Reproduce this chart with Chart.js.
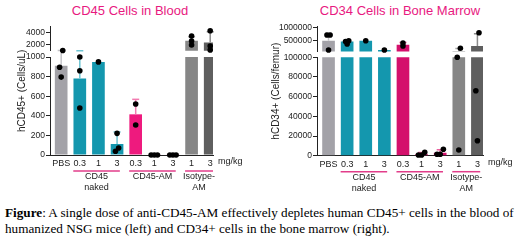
<!DOCTYPE html>
<html>
<head>
<meta charset="utf-8">
<script src="https://cdn.jsdelivr.net/npm/chart.js@4"></script>
<style>
  html, body { margin: 0; padding: 0; background: #fff; }
  body { width: 520px; height: 240px; position: relative; overflow: hidden; font-family: 'Liberation Sans', Arial, sans-serif; }
  .panel { position: absolute; top: 0; width: 260px; height: 200px; }
  .title { position: absolute; top: 3px; font-size: 13px; line-height: 16px; color: #e8197f; white-space: nowrap; transform: translateX(-50%); }
  .caption { position: absolute; left: 5px; top: 205px; font-family: 'Liberation Serif', 'Times New Roman', serif; font-size: 13.2px; line-height: 16px; color: #000; white-space: nowrap; }
</style>
</head>
<body>
<div class="title" style="left:130px">CD45 Cells in Blood</div>
<div class="title" style="left:400px">CD34 Cells in Bone Marrow</div>
<div class="panel" style="left:0"><canvas id="bloodChart"></canvas></div>
<div class="panel" style="left:260px"><canvas id="marrowChart"></canvas></div>
<div class="caption"><b>Figure</b>: A single dose of anti-CD45-AM effectively depletes human CD45+ cells in the blood of<br>humanized NSG mice (left) and CD34+ cells in the bone marrow (right).</div>

<script>
// x categories, shared by both panels
const doseLabels = ['PBS', '0.3', '1', '3', '0.3', '1', '3', '1', '3'];
const groupLabels = [
  { from: 1, to: 3, text: ['CD45', 'naked'] },
  { from: 4, to: 6, text: ['CD45-AM'] },
  { from: 7, to: 8, text: ['Isotype-', 'AM'] }
];

// CD45 cells in blood (cells/uL)
const bloodMeans = [910, 780, 950, 112, 415, 4, 3, 2650, 2380];
const bloodErrorTops = [1040, 1010, null, 235, 568, null, null, 3320, 4150];
const bloodPoints = [
  [1040, 895, 795], [1000, 860, 480], [950], [221, 38, 71], [520, 306],
  [0, 0, 0], [0, 0, 0], [3450, 2620, 1950], [4330, 1120, 1780]
];
const bloodLowTicks = [0, 200, 400, 600, 800, 1000];
const bloodHighTicks = [2000, 4000];

// CD34 cells in bone marrow (cells/femur)
const marrowMeans = [500000, 470000, 500000, 152000, 345000, 1600, 3000, 107000, 300000];
const marrowErrorTops = [775000, 520000, null, null, 430000, 3300, 6000, 210000, 760000];
const marrowPoints = [
  [712000, 712000, 152000], [500000, 380000, 470000], [500000], [152000], [300000, 410000],
  [3500, 700, 700], [6500, 1400, 1400], [215000, 100000, 5800], [797000, 66000, 15200]
];
const marrowLowTicks = [0, 20000, 40000, 60000, 80000, 100000];
const marrowHighTicks = [500000, 1000000];

const gray = '#a3a2a8', teal = '#1497ae', iso1 = '#868686', iso3 = '#5f5f5f';
const tickFont = { family: "'Liberation Sans', Arial, sans-serif", size: 8.5 };
const inkColor = '#222';

// text under the x axis, y title, mg/kg
const panelText = {
  id: 'panelText',
  afterDraw(chart, args, opts) {
    const { ctx, chartArea, scales: { x } } = chart;
    ctx.save();
    ctx.fillStyle = inkColor;
    ctx.font = "10px 'Liberation Sans', Arial, sans-serif";
    ctx.textAlign = 'center';
    ctx.textBaseline = 'middle';
    ctx.translate(opts.yTitleX, (chartArea.top + chartArea.bottom) / 2);
    ctx.rotate(-Math.PI / 2);
    ctx.fillText(opts.yTitle, 0, 0);
    ctx.restore();

    ctx.save();
    ctx.font = "9px 'Liberation Sans', Arial, sans-serif";
    ctx.fillStyle = inkColor;
    ctx.textBaseline = 'middle';
    ctx.textAlign = 'left';
    ctx.fillText('mg/kg', chartArea.right + 5, chartArea.bottom + 7);
    ctx.textAlign = 'center';
    const lineY = chartArea.bottom + 16;
    groupLabels.forEach(g => {
      const x1 = x.getPixelForValue(g.from - 0.35);
      const x2 = x.getPixelForValue(g.to + 0.15);
      ctx.strokeStyle = opts.groupColor;
      ctx.lineWidth = 1.5;
      ctx.beginPath();
      ctx.moveTo(x1, lineY);
      ctx.lineTo(x2, lineY);
      ctx.stroke();
      g.text.forEach((t, k) => ctx.fillText(t, (x1 + x2) / 2, lineY + 6 + k * 10.5));
    });
    ctx.restore();
  }
};

const makeYAxis = (min, max, weight, ticks, width) => ({
  type: 'linear', position: 'left', stack: 'v', stackWeight: weight, min, max, offset: false,
  border: { display: true, color: inkColor, width: 1 },
  grid: { display: true, drawOnChartArea: false, drawTicks: true, tickLength: 4, color: inkColor },
  ticks: { font: tickFont, color: inkColor, padding: 1, autoSkip: false, callback: v => String(v) },
  afterBuildTicks: axis => { axis.ticks = ticks.map(v => ({ value: v })); },
  afterFit: axis => { axis.width = width; }
});

// spread only the dots that would sit on top of each other (like a scatter dot plot)
const spreadGroup = (vals, i, lowMax, highMax) => {
  const near = (a, b) => {
    const range = (a > lowMax) === (b > lowMax) ? (a > lowMax ? highMax - lowMax : lowMax) : Infinity;
    return Math.abs(a - b) < range * 0.07;
  };
  const order = vals.map((v, k) => k).sort((a, b) => vals[a] - vals[b]);
  const clusters = [];
  order.forEach(k => {
    const last = clusters[clusters.length - 1];
    if (last && near(vals[last[last.length - 1]], vals[k])) last.push(k);
    else clusters.push([k]);
  });
  const out = [];
  clusters.forEach(c => c.forEach((k, j) => out.push({ x: i + (j - (c.length - 1) / 2) * 0.17, y: vals[k] })));
  return out;
};

const createPanel = (canvasId, p) => {
  const canvas = document.getElementById(canvasId);
  if (!canvas) return;

  const bars = p.means.map((v, i) => ({ x: i, y: v }));
  const errors = [], errorColors = [], caps = [];
  p.errorTops.forEach((top, i) => {
    if (top === null) return;
    errors.push({ x: i, y: [p.means[i], top] });
    errorColors.push(p.errorColors[i]);
    caps.push({ x: i, y: top });
  });
  const low = [], high = [];
  p.points.forEach((vals, i) => {
    spreadGroup(vals, i, p.lowMax, p.highMax).forEach(pt => (pt.y > p.lowMax ? high : low).push(pt));
  });
  const capsHigh = caps.filter(c => c.y > p.lowMax);
  const capsLow = caps.filter(c => c.y <= p.lowMax);
  const capColor = list => list.map(c => p.errorColors[c.x]);

  const barSet = (yAxisID) => ({
    type: 'bar', data: bars, yAxisID, backgroundColor: p.barColors,
    grouped: false, categoryPercentage: 1, barPercentage: 0.68, borderWidth: 0, clip: 0, order: 4
  });
  const errorSet = (yAxisID) => ({
    type: 'bar', data: errors, yAxisID, backgroundColor: errorColors,
    grouped: false, barThickness: 1.5, inflateAmount: 0, borderWidth: 0,
    clip: { left: 0, right: 0, top: 7, bottom: 0 }, order: 3
  });
  const capSet = (data, yAxisID) => ({
    type: 'scatter', data, yAxisID, pointStyle: 'line', pointRadius: 3.5,
    borderColor: capColor(data), borderWidth: 1.5, clip: 6, order: 2
  });
  const pointSet = (data, yAxisID) => ({
    type: 'scatter', data, yAxisID, pointRadius: 2.8, pointBackgroundColor: '#000',
    pointBorderWidth: 0, clip: 6, order: 1
  });

  return new Chart(canvas.getContext('2d'), {
    type: 'bar',
    data: {
      datasets: [
        barSet('yLow'), barSet('yHigh'),
        errorSet('yLow'), errorSet('yHigh'),
        capSet(capsLow, 'yLow'), capSet(capsHigh, 'yHigh'),
        pointSet(low, 'yLow'), pointSet(high, 'yHigh')
      ]
    },
    options: {
      responsive: true,
      maintainAspectRatio: false,
      animation: false,
      devicePixelRatio: 1,
      events: [],
      layout: { padding: { top: p.padTop, right: p.padRight, left: 0, bottom: 0 } },
      plugins: {
        legend: { display: false },
        tooltip: { enabled: false },
        title: { display: false },
        panelText: { yTitle: p.yTitle, yTitleX: p.yTitleX, groupColor: p.groupColor }
      },
      scales: {
        x: {
          type: 'linear', min: p.xMin, max: p.xMax, offset: false,
          border: { display: true, color: inkColor, width: 1 },
          grid: { display: false, drawTicks: false, offset: false },
          ticks: { font: { ...tickFont, size: 9 }, color: inkColor, padding: 3, autoSkip: false, maxRotation: 0,
                   callback: v => doseLabels[v] },
          afterBuildTicks: axis => { axis.ticks = doseLabels.map((_, i) => ({ value: i })); },
          afterFit: axis => { axis.height = p.xHeight; }
        },
        yLow: makeYAxis(0, p.lowMax, p.lowWeight, p.lowTicks, p.axisWidth),
        yGap: {
          type: 'linear', position: 'left', stack: 'v', stackWeight: p.gapWeight, min: 0, max: 1,
          border: { display: false }, grid: { display: false }, ticks: { display: false },
          afterFit: axis => { axis.width = p.axisWidth; }
        },
        yHigh: makeYAxis(p.lowMax, p.highMax, p.highWeight, p.highTicks, p.axisWidth)
      }
    },
    plugins: [panelText]
  });
};

createPanel('bloodChart', {
  means: bloodMeans, errorTops: bloodErrorTops, points: bloodPoints,
  lowTicks: bloodLowTicks, highTicks: bloodHighTicks,
  lowMax: 1000, highMax: 5000, lowWeight: 98, gapWeight: 6.3, highWeight: 24,
  barColors: [gray, teal, teal, teal, '#ee1a7e', '#ee1a7e', '#ee1a7e', iso1, iso3],
  errorColors: ['#c4c4c8', '#6cc3d2', '#6cc3d2', '#6cc3d2', '#f27bb0', '#f27bb0', '#f27bb0', '#a8a8a8', '#8c8c8c'],
  groupColor: '#e23d8a',
  yTitle: 'hCD45+ (Cells/uL)', yTitleX: 22,
  axisWidth: 50, xMin: -0.6, xMax: 8.15, padTop: 26.7, padRight: 47, xHeight: 45
});

createPanel('marrowChart', {
  means: marrowMeans, errorTops: marrowErrorTops, points: marrowPoints,
  lowTicks: marrowLowTicks, highTicks: marrowHighTicks,
  lowMax: 100000, highMax: 1025000, lowWeight: 98.4, gapWeight: 5.9, highWeight: 24.8,
  barColors: [gray, teal, teal, teal, '#d4106c', '#d4106c', '#d4106c', iso1, iso3],
  errorColors: ['#c4c4c8', '#6cc3d2', '#6cc3d2', '#6cc3d2', '#e8609c', '#e8609c', '#e8609c', '#a8a8a8', '#8c8c8c'],
  groupColor: '#e23d8a',
  yTitle: 'hCD34+ (Cells/femur)', yTitleX: 16,
  axisWidth: 57, xMin: -0.62, xMax: 8.3, padTop: 26.6, padRight: 37, xHeight: 44.3
});
</script>
</body>
</html>
